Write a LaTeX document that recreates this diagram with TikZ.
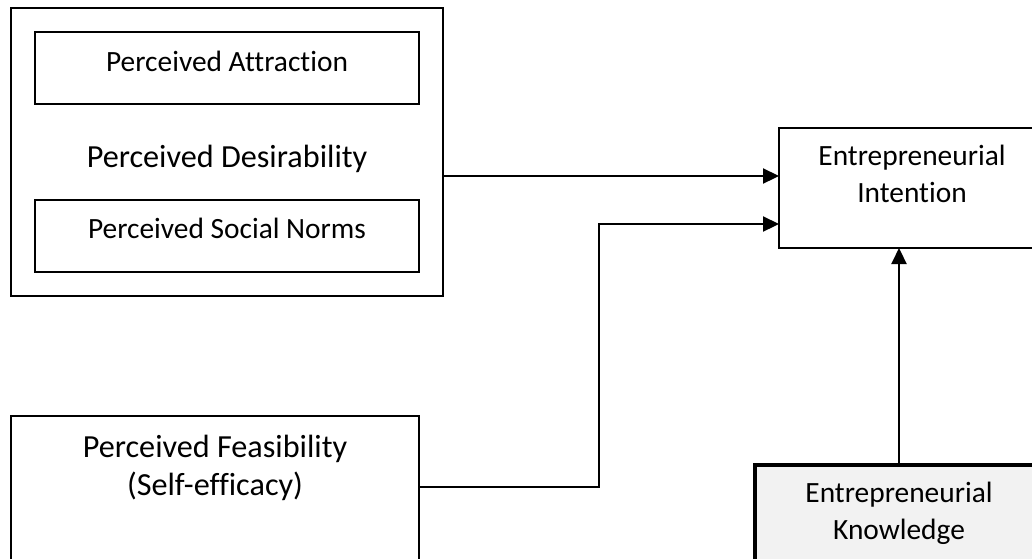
\documentclass[tikz,border=0pt]{standalone}
\usepackage{fontspec}
\setmainfont{Carlito}[Ligatures=NoCommon]
\usetikzlibrary{arrows.meta}
\definecolor{kfill}{HTML}{F2F2F2}
\tikzset{
  box/.style={draw=black, line width=2.2pt, rectangle, outer sep=0pt, inner sep=0pt, anchor=north west},
  thickbox/.style={box, line width=4pt, fill=kfill},
  bigtxt/.style={font=\fontsize{32.2}{38}\selectfont, align=center, inner sep=0pt, anchor=base},
  smalltxt/.style={font=\fontsize{29.4}{36.5}\selectfont, align=center, inner sep=0pt, anchor=base},
  conn/.style={line width=2.2pt, -{Triangle[length=16pt,width=15pt]}},
}
\begin{document}
\begin{tikzpicture}[x=1pt,y=-1pt]
\useasboundingbox (0,0) rectangle (1032,558);
\fill[white] (0,0) rectangle (1032,558);
\begin{scope}
\clip (0,0) rectangle (1032,558);
% boxes
\node[box, minimum width=432pt, minimum height=288pt] (desir) at (11,8) {};
\node[box, minimum width=384pt, minimum height=72pt] (attr) at (35,32) {};
\node[box, minimum width=384pt, minimum height=72pt] (norms) at (35,200) {};
\node[box, minimum width=408pt, minimum height=200pt] (feas) at (11,416) {};
\node[box, minimum width=266pt, minimum height=120pt] (intent) at (779,128) {};
\node[thickbox, minimum width=290pt, minimum height=150pt] (know) at (755,465) {};
% texts
\node[smalltxt] (attrT) at (227,71) {Perceived Attraction};
\node[bigtxt] (desirT) at (227,167) {Perceived Desirability};
\node[smalltxt] (normsT) at (227,238) {Perceived Social Norms};
\node[bigtxt] (feasT) at (215,495) {Perceived Feasibility\\(Self-efficacy)};
\node[smalltxt] (intentT) at (912,202) {Entrepreneurial\\Intention};
\node[smalltxt] (knowT) at (899,539) {Entrepreneurial\\Knowledge};
% connectors
\coordinate (bend1) at (599,487);
\coordinate (bend2) at (599,224);
\draw[conn] (desir.east |- 0,176) -- (intent.west |- 0,176);
\draw[conn] (feas.east |- bend1) -- (bend1) -- (bend2) -- (intent.west |- bend2);
\draw[conn] (know.north -| 899,0) -- (intent.south -| 899,0);
\end{scope}
\end{tikzpicture}
\end{document}
